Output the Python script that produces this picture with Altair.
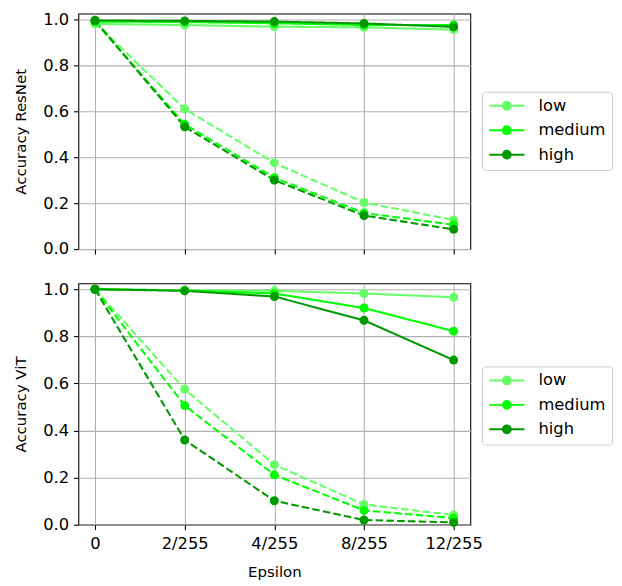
import altair as alt
import pandas as pd

epsilons = ["0", "2/255", "4/255", "8/255", "12/255"]
levels = ["low", "medium", "high"]
level_colors = ["#66ff66", "#00ff00", "#009900"]
kinds = ["solid", "dashed"]

# ResNet panel
resnet_low_solid = [0.980, 0.975, 0.968, 0.965, 0.955]
resnet_medium_solid = [0.990, 0.988, 0.983, 0.975, 0.975]
resnet_high_solid = [0.995, 0.993, 0.990, 0.982, 0.967]
resnet_low_dashed = [0.985, 0.610, 0.375, 0.203, 0.127]
resnet_medium_dashed = [0.990, 0.543, 0.311, 0.157, 0.106]
resnet_high_dashed = [0.995, 0.532, 0.300, 0.146, 0.086]

# ViT panel
vit_low_solid = [1.000, 0.995, 0.993, 0.982, 0.966]
vit_medium_solid = [1.000, 0.995, 0.982, 0.920, 0.822]
vit_high_solid = [1.000, 0.993, 0.969, 0.868, 0.699]
vit_low_dashed = [1.000, 0.575, 0.255, 0.086, 0.041]
vit_medium_dashed = [1.000, 0.506, 0.212, 0.061, 0.028]
vit_high_dashed = [1.000, 0.360, 0.102, 0.020, 0.010]

FONT = "DejaVu Sans"
TICK_FS = 16.7
TITLE_FS = 15.3
LEGEND_SYMBOL = "M-3.6,0L3.6,0M-0.8,0A0.8,0.8,0,1,0,0.8,0A0.8,0.8,0,1,0,-0.8,0Z"


def build_df(series):
    rows = []
    for lv in levels:
        for kind in kinds:
            for i, (e, v) in enumerate(zip(epsilons, series[(lv, kind)])):
                rows.append({"Epsilon": e, "idx": i, "Accuracy": v, "level": lv,
                             "kind": kind, "series": lv + "-" + kind})
    return pd.DataFrame(rows)


def panel(df, ytitle, bottom, height, legend_y):
    x = alt.X(
        "Epsilon:N", sort=epsilons,
        scale=alt.Scale(type="point", padding=0.186),
        axis=alt.Axis(labels=bottom, title="Epsilon" if bottom else None,
                      labelAngle=0, tickSize=5, tickColor="black",
                      tickWidth=1.1, labelPadding=6, titlePadding=13,
                      grid=True, gridColor="#b0b0b0", gridWidth=1.1,
                      domain=False),
    )
    y = alt.Y(
        "Accuracy:Q",
        scale=alt.Scale(domain=[0, 1.025], nice=False, zero=False),
        axis=alt.Axis(title=ytitle, values=[0, 0.2, 0.4, 0.6, 0.8, 1.0],
                      format=".1f", tickSize=5, tickColor="black",
                      tickWidth=1.1, labelPadding=5, titlePadding=15,
                      grid=True, gridColor="#b0b0b0", gridWidth=1.1,
                      domain=False),
    )
    color = alt.Color(
        "level:N", sort=levels,
        scale=alt.Scale(domain=levels, range=level_colors),
        legend=alt.Legend(
            title=None, orient="none", legendX=413, legendY=legend_y,
            symbolType=LEGEND_SYMBOL, symbolSize=100, symbolStrokeWidth=2,
            symbolOffset=11, labelOffset=24, padding=6, rowPadding=7,
            strokeColor="#cccccc", cornerRadius=3, fillColor="white",
            labelFont=FONT, labelFontSize=TICK_FS, labelColor="black",
        ),
    )
    dash = alt.StrokeDash(
        "kind:N", sort=kinds,
        scale=alt.Scale(domain=kinds, range=[[1, 0], [7.7, 3.3]]),
        legend=None,
    )
    lines = alt.Chart(df).mark_line(strokeWidth=2.1).encode(
        x=x, y=y, color=color, strokeDash=dash, detail="series:N",
        order=alt.Order("idx:Q"),
    )
    points = alt.Chart(df).mark_point(filled=True, size=85, opacity=1).encode(
        x=x, y=y, color=color, detail="series:N",
    )
    return alt.layer(lines, points).properties(width=401, height=height)


resnet_series = {
    ("low", "solid"): resnet_low_solid, ("medium", "solid"): resnet_medium_solid,
    ("high", "solid"): resnet_high_solid, ("low", "dashed"): resnet_low_dashed,
    ("medium", "dashed"): resnet_medium_dashed, ("high", "dashed"): resnet_high_dashed,
}
vit_series = {
    ("low", "solid"): vit_low_solid, ("medium", "solid"): vit_medium_solid,
    ("high", "solid"): vit_high_solid, ("low", "dashed"): vit_low_dashed,
    ("medium", "dashed"): vit_medium_dashed, ("high", "dashed"): vit_high_dashed,
}

top = panel(build_df(resnet_series), "Accuracy ResNet", False, 241, 80)
bottom = panel(build_df(vit_series), "Accuracy ViT", True, 247, 85)

chart = alt.vconcat(top, bottom, spacing=22).resolve_legend(
    color="independent"
).configure(
    font=FONT,
).configure_view(
    stroke="black", strokeWidth=1.1,
).configure_axis(
    labelFont=FONT, titleFont=FONT, labelFontSize=TICK_FS, titleFontSize=TITLE_FS,
    labelColor="black", titleColor="black", titleFontWeight="normal",
).properties(padding={"left": 4, "top": -4, "right": 0, "bottom": 0})

chart.save("out.html", embed_options={"renderer": "svg", "actions": False})
